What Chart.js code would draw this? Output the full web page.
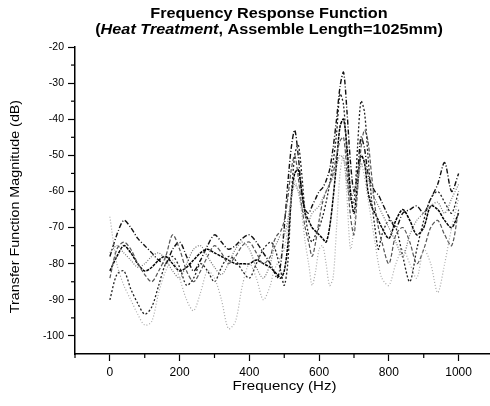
<!DOCTYPE html>
<html>
<head>
<meta charset="utf-8">
<script src="https://cdn.jsdelivr.net/npm/chart.js@4/dist/chart.umd.min.js"></script>
<style>
html, body { margin: 0; padding: 0; background: #fff; }
</style>
</head>
<body>
<canvas id="chart1" width="490" height="406"></canvas>
<script>
// frequency grid (Hz), denser around the resonance peaks
const freq = [0,20,40,60,80,100,120,140,160,180,200,220,240,260,280,300,320,340,360,380,400,420,440,460,
    470,480,490,500,510,520,530,540,550,560,570,580,590,600,610,620,630,640,650,660,670,680,690,700,710,720,730,740,750,760,770,780,
    800,820,840,860,880,900,920,940,960,980,1000];

// transfer function magnitude (dB)
const seriesA = [-78,-72,-68,-70,-73,-75,-77,-79,-80,-76,-74,-78,-82,-79,-75,-72,-74,-76,-75,-73,-72,-74,-77,-80,
    -82,-84,-80,-70,-58,-48,-43,-50,-60,-65,-66,-64,-62,-60,-59,-57,-54,-48,-40,-31,-27,-38,-52,-60,-55,-45,-48,-55,-58,-60,-61,-63,
    -67,-70,-66,-65,-64,-66,-62,-58,-52,-60,-55];
const seriesB = [-90,-83,-82,-87,-91,-94,-92,-86,-80,-78,-81,-86,-84,-80,-82,-85,-81,-78,-79,-82,-84,-80,-76,-74,
    -75,-78,-82,-86,-80,-62,-50,-47,-55,-66,-72,-74,-72,-70,-67,-63,-58,-52,-44,-33,-36,-50,-62,-63,-48,-35,-38,-50,-62,-70,-76,-72,
    -68,-70,-78,-85,-76,-68,-62,-60,-63,-66,-60];
const seriesC = [-84,-76,-74,-76,-80,-83,-85,-82,-78,-72,-76,-82,-85,-82,-78,-75,-77,-80,-78,-75,-74,-77,-80,-78,
    -74,-72,-71,-68,-62,-54,-50,-56,-64,-70,-74,-78,-74,-68,-63,-60,-58,-55,-50,-46,-45,-55,-67,-72,-60,-48,-43,-46,-55,-64,-70,-74,
    -80,-72,-70,-74,-80,-76,-70,-68,-72,-75,-65];
const seriesD = [-67,-80,-86,-90,-94,-97,-96,-88,-82,-79,-84,-90,-93,-88,-82,-84,-90,-98,-96,-86,-80,-84,-90,-86,
    -82,-80,-78,-76,-70,-62,-57,-60,-66,-74,-80,-86,-82,-76,-75,-80,-86,-84,-70,-55,-50,-62,-76,-70,-58,-52,-56,-62,-68,-74,-80,-84,
    -86,-80,-76,-80,-84,-76,-80,-88,-80,-70,-62];
const seriesE = [-77,-75,-77,-79,-81,-80,-78,-77,-79,-82,-84,-80,-76,-75,-78,-81,-83,-80,-76,-74,-76,-81,-84,-80,
    -76,-74,-72,-72,-68,-62,-58,-60,-64,-67,-68,-66,-65,-64,-62,-60,-58,-56,-53,-50,-51,-58,-62,-60,-56,-53,-52,-56,-60,-62,-64,-66,
    -70,-74,-78,-72,-68,-66,-64,-63,-66,-62,-58];
const seriesF = [-82,-78,-75,-77,-80,-82,-81,-79,-78,-80,-82,-81,-79,-77,-76,-77,-78,-79,-80,-80,-80,-79,-80,-81,
    -82,-83,-84,-82,-75,-62,-55,-54,-60,-66,-68,-70,-71,-72,-73,-74,-70,-62,-52,-42,-40,-48,-60,-66,-58,-50,-52,-60,-64,-66,-68,-70,
    -73,-68,-65,-68,-72,-70,-64,-65,-68,-70,-66];

// axis ticks
const xTicks = [-100,0,100,200,300,400,500,600,700,800,900,1000];
const xTickLabels = [0,200,400,600,800,1000];
const yTicks = [-100,-95,-90,-85,-80,-75,-70,-65,-60,-55,-50,-45,-40,-35,-30,-25,-20];
const yTickLabels = [-100,-90,-80,-70,-60,-50,-40,-30,-20];

const FONT = "'Liberation Sans', Arial, sans-serif";
const STRETCH = 1.16;   // the scanned lettering is wider than plain Arial

function toPoints(values) {
    return freq.map((f, i) => ({x: f, y: values[i]}));
}

function makeSet(values, color, dash, width) {
    return {
        data: toPoints(values),
        borderColor: color,
        borderDash: dash,
        borderWidth: width,
        pointRadius: 0,
        tension: 0.3,
        fill: false
    };
}

// titles, axis titles and the short minor ticks
const decorPlugin = {
    id: 'decor',
    afterDraw(chart) {
        const ctx = chart.ctx;
        const xs = chart.scales.x, ys = chart.scales.y;
        ctx.save();
        ctx.fillStyle = '#000';
        ctx.strokeStyle = '#000';
        ctx.textBaseline = 'middle';

        // minor ticks
        ctx.lineWidth = 1.2;
        xTicks.forEach(v => {
            if (xTickLabels.includes(v)) return;
            const px = xs.getPixelForValue(v);
            ctx.beginPath(); ctx.moveTo(px, xs.top); ctx.lineTo(px, xs.top + 4); ctx.stroke();
        });
        yTicks.forEach(v => {
            if (yTickLabels.includes(v)) return;
            const py = ys.getPixelForValue(v);
            ctx.beginPath(); ctx.moveTo(ys.right, py); ctx.lineTo(ys.right - 4, py); ctx.stroke();
        });

        // title (stretched horizontally around its centre)
        const cx = 269;
        ctx.save();
        ctx.translate(cx, 0);
        ctx.scale(STRETCH, 1);
        ctx.textAlign = 'center';
        ctx.font = 'bold 14px ' + FONT;
        ctx.fillText('Frequency Response Function', 0, 14);

        const p1 = '(', p2 = 'Heat Treatment', p3 = ', Assemble Length=1025mm)';
        const bold = 'bold 14px ' + FONT, ital = 'italic bold 14px ' + FONT;
        ctx.font = bold; const w1 = ctx.measureText(p1).width, w3 = ctx.measureText(p3).width;
        ctx.font = ital; const w2 = ctx.measureText(p2).width;
        let x0 = -(w1 + w2 + w3) / 2;
        ctx.textAlign = 'left';
        ctx.font = bold; ctx.fillText(p1, x0, 30);
        ctx.font = ital; ctx.fillText(p2, x0 + w1, 30);
        ctx.font = bold; ctx.fillText(p3, x0 + w1 + w2, 30);
        ctx.restore();

        // axis titles
        ctx.font = '13px ' + FONT;
        ctx.textAlign = 'center';
        ctx.save();
        ctx.translate((xs.left + xs.right) / 2 + 2, 386);
        ctx.scale(STRETCH, 1);
        ctx.fillText('Frequency (Hz)', 0, 0);
        ctx.restore();

        ctx.translate(15, (ys.top + ys.bottom) / 2 + 6);
        ctx.rotate(-Math.PI / 2);
        ctx.scale(1.1, 1);
        ctx.fillText('Transfer Function Magnitude (dB)', 0, 0);
        ctx.restore();
    }
};

var chartObj = new Chart(document.getElementById('chart1').getContext('2d'), {
    type: 'line',
    data: {
        datasets: [
            makeSet(seriesD, '#a8a8a8', [1, 2], 1.2),
            makeSet(seriesE, '#777777', [1, 1.5], 1.2),
            makeSet(seriesC, '#555555', [4, 2], 1.2),
            makeSet(seriesB, '#222222', [2, 2], 1.3),
            makeSet(seriesF, '#000000', [3, 1], 1.5),
            makeSet(seriesA, '#111111', [5, 2, 1, 2], 1.4)
        ]
    },
    options: {
        responsive: false,
        animation: false,
        layout: { padding: { top: 47, right: 0, left: 0, bottom: 0 } },
        plugins: {
            legend: { display: false },
            tooltip: { enabled: false },
            title: { display: false }
        },
        scales: {
            x: {
                type: 'linear',
                min: -100,
                max: 1090,
                afterBuildTicks: s => { s.ticks = xTicks.map(v => ({value: v})); },
                afterFit: s => { s.height = 52; },
                border: { color: '#000', width: 1.5 },
                grid: {
                    drawOnChartArea: false,
                    tickLength: 7,
                    tickWidth: 1.2,
                    tickColor: c => xTickLabels.includes(c.tick && c.tick.value) ? '#000' : 'rgba(0,0,0,0)'
                },
                ticks: {
                    autoSkip: false,
                    maxRotation: 0,
                    padding: 4,
                    color: '#000',
                    font: { family: FONT, size: 12 },
                    callback: v => xTickLabels.includes(v) ? String(v) : ''
                }
            },
            y: {
                type: 'linear',
                min: -105,
                max: -20,
                afterBuildTicks: s => { s.ticks = yTicks.map(v => ({value: v})); },
                afterFit: s => { s.width = 75; },
                border: { color: '#000', width: 1.5 },
                grid: {
                    drawOnChartArea: false,
                    tickLength: 7,
                    tickWidth: 1.2,
                    tickColor: c => yTickLabels.includes(c.tick && c.tick.value) ? '#000' : 'rgba(0,0,0,0)'
                },
                ticks: {
                    autoSkip: false,
                    padding: 4,
                    color: '#000',
                    font: { family: FONT, size: 10.5 },
                    callback: v => yTickLabels.includes(v) ? String(v) : ''
                }
            }
        }
    },
    plugins: [decorPlugin]
});
</script>
</body>
</html>
